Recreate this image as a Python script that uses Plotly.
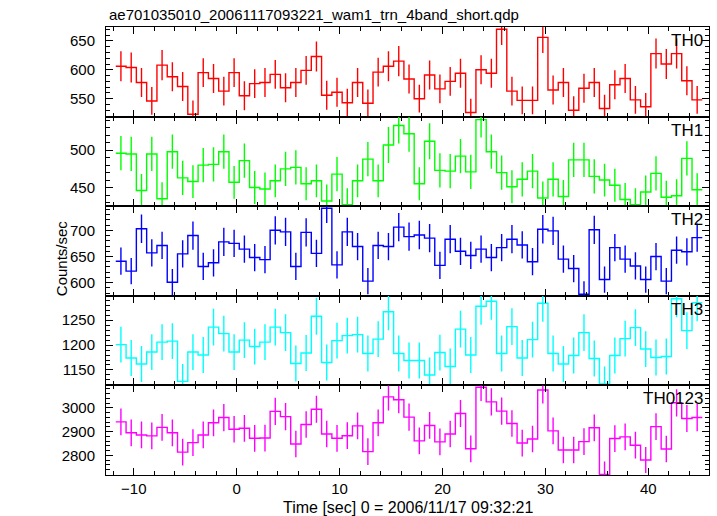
import plotly.graph_objects as go

# ---- data ----
time = [-11.25 + k for k in range(57)]  # 1-s bin centres

th0 = [606, 604, 578, 546, 608, 588, 571, 523, 595, 585,
       563, 595, 555, 576, 578, 592, 569, 578, 599, 623,
       556, 561, 543, 578, 542, 596, 606, 615, 584, 550,
       591, 567, 580, 594, 526, 600, 594, 670, 563, 547,
       547, 656, 565, 578, 530, 568, 578, 533, 574, 585,
       548, 536, 628, 610, 628, 581, 548]
th0_err = [26, 26, 25, 24, 26, 25, 25, 24, 25, 25,
           25, 25, 25, 25, 25, 25, 25, 25, 25, 26,
           25, 25, 24, 25, 24, 25, 26, 26, 25, 24,
           25, 25, 25, 25, 24, 25, 25, 27, 25, 24,
           24, 27, 25, 25, 24, 25, 25, 24, 25, 25,
           24, 24, 26, 26, 26, 25, 24]

th1 = [496, 495, 446, 495, 435, 498, 463, 458, 480, 481,
       498, 457, 486, 450, 448, 459, 475, 477, 455, 459,
       432, 468, 427, 459, 488, 459, 507, 533, 522,
       455, 512, 473, 472, 492, 471, 541, 498, 470, 451,
       461, 472, 436, 461, 438, 487, 487, 465, 460, 453,
       434, 427, 444, 469, 437, 439, 489, 447]
th1_err = [23, 23, 22, 23, 22, 23, 23, 22, 23, 23,
           23, 22, 23, 22, 22, 22, 23, 23, 22, 22,
           22, 23, 22, 22, 23, 22, 24, 24, 24,
           22, 24, 23, 23, 23, 23, 24, 23, 23, 22,
           23, 23, 22, 23, 22, 23, 23, 23, 22, 22,
           22, 22, 22, 23, 22, 22, 23, 22]

th2 = [641, 622, 703, 657, 671, 601, 655, 690, 631, 638,
       678, 675, 664, 648, 644, 700, 697, 631, 696, 656,
       742, 634, 697, 669, 603, 671, 669, 706, 688,
       691, 685, 633, 683, 660, 652, 664, 648, 667, 683,
       672, 640, 702, 699, 645, 627, 578, 701, 606, 667,
       645, 632, 606, 650, 603, 662, 659, 686]
th2_err = [26, 25, 27, 26, 26, 25, 26, 27, 26, 26,
           27, 26, 26, 26, 26, 27, 27, 26, 27, 26,
           28, 26, 27, 26, 25, 26, 26, 27, 27,
           27, 27, 26, 27, 26, 26, 26, 26, 26, 27,
           26, 26, 27, 27, 26, 26, 25, 27, 25, 26,
           26, 26, 25, 26, 25, 26, 26, 27]

th3 = [1201, 1174, 1162, 1186, 1206, 1208, 1127, 1186, 1180, 1236,
       1223, 1186, 1210, 1197, 1206, 1236, 1225, 1163, 1184, 1258,
       1165, 1209, 1219, 1221, 1183, 1212, 1267, 1183, 1169,
       1169, 1140, 1185, 1157, 1232, 1180, 1278, 1288, 1183, 1237,
       1174, 1211, 1284, 1183, 1162, 1179, 1225, 1173, 1122, 1179,
       1213, 1235, 1192, 1175, 1177, 1293, 1229, 1285]
th3_err = [36, 36, 36, 36, 36, 36, 35, 36, 36, 37,
           36, 36, 36, 36, 36, 37, 37, 36, 36, 37,
           36, 36, 36, 36, 36, 36, 37, 36, 36,
           36, 35, 36, 36, 37, 36, 37, 37, 36, 37,
           36, 36, 37, 36, 36, 36, 37, 36, 35, 36,
           36, 37, 36, 36, 36, 37, 37, 37]

th0123 = [2941, 2895, 2886, 2882, 2918, 2895, 2814, 2854, 2886, 2937,
          2959, 2910, 2914, 2872, 2873, 2985, 2963, 2848, 2930, 2994,
          2890, 2872, 2883, 2924, 2816, 2937, 3046, 3034, 2961,
          2861, 2926, 2857, 2890, 2976, 2828, 3086, 3025, 2986, 2934,
          2852, 2869, 3075, 2903, 2823, 2823, 2858, 2916, 2720, 2871,
          2878, 2843, 2781, 2921, 2827, 3021, 2955, 2959]
th0123_err = [56, 56, 56, 56, 56, 56, 56, 56, 56, 56,
              57, 56, 56, 56, 56, 57, 57, 56, 56, 57,
              56, 56, 56, 56, 56, 56, 57, 57, 57,
              56, 56, 56, 56, 57, 56, 57, 57, 57, 56,
              56, 56, 57, 56, 56, 56, 56, 56, 55, 56,
              56, 56, 55, 56, 56, 57, 57, 57]

names = ["TH0", "TH1", "TH2", "TH3", "TH0123"]
colors = ["#ff0000", "#00ff00", "#0000ff", "#00ffff", "#ff00ff"]
series = [th0, th1, th2, th3, th0123]
errors = [th0_err, th1_err, th2_err, th3_err, th0123_err]
y_ranges = [[519, 674], [425, 545], [575, 746], [1119, 1299], [2718, 3094]]
y_major = [50, 50, 50, 50, 100]
y_minor = [10, 10, 10, 10, 20]
x_range = [-12.7, 45.9]

title_text = "ae701035010_20061117093221_wam1_trn_4band_short.qdp"
x_title = "Time [sec] 0 = 2006/11/17 09:32:21"
y_title = "Counts/sec"

FONT = "Liberation Sans, Arial, Helvetica, sans-serif"

fig = go.Figure()
npan = len(names)
annotations = []
for p in range(npan):
    idx = p + 1
    xa = "x" if idx == 1 else f"x{idx}"
    ya = "y" if idx == 1 else f"y{idx}"
    vals = series[p]
    edges = [t - 0.5 for t in time] + [time[-1] + 0.5]
    steps = list(vals) + [vals[-1]]
    fig.add_trace(go.Scatter(
        x=edges, y=steps, mode="lines",
        line=dict(shape="hv", color=colors[p], width=1.4),
        xaxis=xa, yaxis=ya, showlegend=False, hoverinfo="skip"))
    fig.add_trace(go.Scatter(
        x=time, y=vals, mode="markers",
        marker=dict(size=1, color="rgba(0,0,0,0)"),
        error_y=dict(type="data", array=errors[p], visible=True,
                     width=0, thickness=1.4, color=colors[p]),
        xaxis=xa, yaxis=ya, showlegend=False))

    top = round(max(0.0, min(1.0, (npan - p) / npan)), 6)
    bottom = round(max(0.0, min(1.0, (npan - p - 1) / npan)), 6)
    xkey = "xaxis" if idx == 1 else f"xaxis{idx}"
    ykey = "yaxis" if idx == 1 else f"yaxis{idx}"
    xaxis = dict(
        domain=[0, 1], anchor=ya, range=x_range,
        showline=True, linecolor="black", linewidth=1, mirror="ticks",
        ticks="inside", ticklen=7, tickcolor="black", tickwidth=1,
        dtick=10, tick0=0, showgrid=False, zeroline=False,
        showticklabels=(idx == npan),
        tickfont=dict(family=FONT, size=15, color="black"),
        minor=dict(dtick=2, tick0=0, ticks="inside", ticklen=4,
                   tickcolor="black", tickwidth=1, showgrid=False),
    )
    if idx > 1:
        xaxis["matches"] = "x"
    yaxis = dict(
        domain=[bottom, top], anchor=xa, range=y_ranges[p],
        showline=True, linecolor="black", linewidth=1, mirror="ticks",
        ticks="inside", ticklen=7, tickcolor="black", tickwidth=1,
        dtick=y_major[p], tick0=0, showgrid=False, zeroline=False,
        ticklabelstandoff=7,
        tickfont=dict(family=FONT, size=15, color="black"),
        minor=dict(dtick=y_minor[p], tick0=0, ticks="inside", ticklen=4,
                   tickcolor="black", tickwidth=1, showgrid=False),
    )
    fig.update_layout(**{xkey: xaxis, ykey: yaxis})
    annotations.append(dict(
        text=names[p], xref="paper", yref="paper", x=1, y=top,
        xanchor="right", yanchor="top", xshift=-4, yshift=-2,
        showarrow=False, font=dict(family=FONT, size=17, color="black")))

annotations.append(dict(
    text=title_text, xref="paper", yref="paper", x=0, y=1,
    xanchor="left", yanchor="middle", xshift=1, yshift=13, showarrow=False,
    font=dict(family=FONT, size=15, color="black")))
annotations.append(dict(
    text=x_title, xref="paper", yref="paper", x=0.5, y=0,
    xanchor="center", yanchor="middle", yshift=-32, showarrow=False,
    font=dict(family=FONT, size=16, color="black")))
annotations.append(dict(
    text=y_title, xref="paper", yref="paper", x=0, y=0.484,
    xanchor="center", yanchor="middle", xshift=-45, textangle=-90,
    showarrow=False, font=dict(family=FONT, size=15, color="black")))

fig.update_layout(
    width=717, height=516,
    margin=dict(l=106, r=8, t=27, b=41),
    paper_bgcolor="white", plot_bgcolor="white",
    annotations=annotations,
    font=dict(family=FONT, color="black"),
)

fig.write_html(
    "out.html",
    config={"displayModeBar": False},
    post_script="document.body.style.margin='0';document.body.style.padding='0';",
)
